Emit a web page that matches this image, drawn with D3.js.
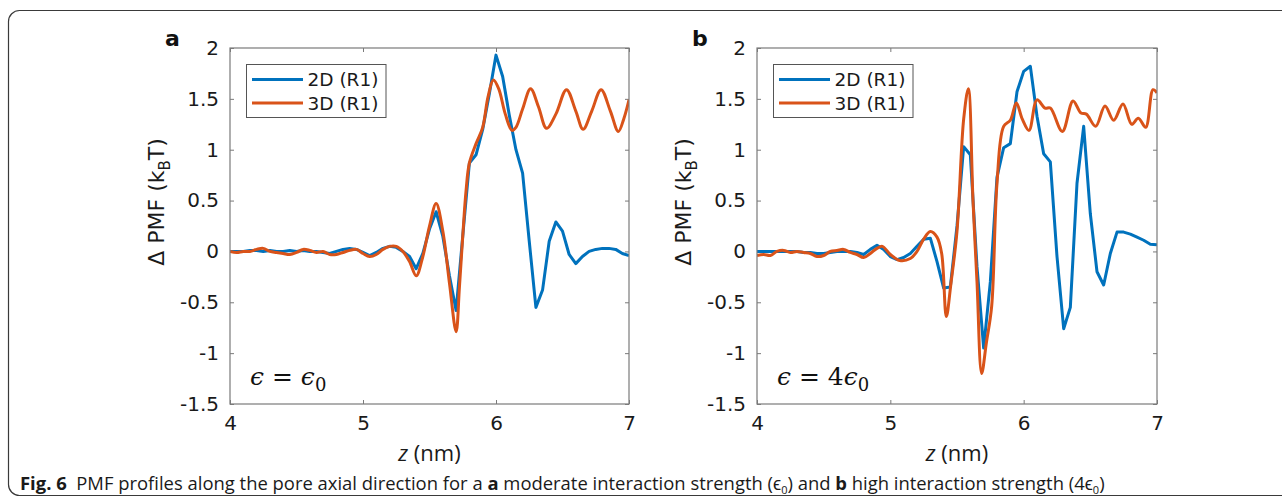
<!DOCTYPE html>
<html>
<head>
<meta charset="utf-8">
<script src="https://cdn.jsdelivr.net/npm/d3@7"></script>
<style>
  body { margin: 0; background: #fff; }
  svg { display: block; }
</style>
</head>
<body>
<svg id="fig" width="1282" height="502"></svg>
<script>
// ---- data -------------------------------------------------------------
const zTicks = [4, 5, 6, 7];
const pmfTicks = [-1.5, -1, -0.5, 0, 0.5, 1, 1.5, 2];
const pmfTickLabels = ["-1.5", "-1", "-0.5", "0", "0.5", "1", "1.5", "2"];
const seriesNames = ["2D (R1)", "3D (R1)"];

// 2D profiles are sampled every 0.05 nm
const z2D = [4.00, 4.05, 4.10, 4.15, 4.20, 4.25, 4.30, 4.35, 4.40, 4.45,
             4.50, 4.55, 4.60, 4.65, 4.70, 4.75, 4.80, 4.85, 4.90, 4.95,
             5.00, 5.05, 5.10, 5.15, 5.20, 5.25, 5.30, 5.35, 5.40, 5.45,
             5.50, 5.55, 5.60, 5.65, 5.70, 5.75, 5.80, 5.85, 5.90, 5.95,
             6.00, 6.05, 6.10, 6.15, 6.20, 6.25, 6.30, 6.35, 6.40, 6.45,
             6.50, 6.55, 6.60, 6.65, 6.70, 6.75, 6.80, 6.85, 6.90, 6.95, 7.00];

// panel a: eps = eps0
const pmfA2D = [0, 0, 0, 0.01, 0.01, 0, 0.01, 0, 0, 0.01,
                0, 0.01, 0, 0, -0.01, -0.02, 0, 0.02, 0.03, 0.02,
                -0.01, -0.04, -0.01, 0.03, 0.05, 0.04, 0.0, -0.05, -0.17, -0.02,
                0.22, 0.39, 0.15, -0.24, -0.58, 0.15, 0.87, 0.95, 1.2, 1.55,
                1.93, 1.72, 1.34, 1.0, 0.77, 0.1, -0.55, -0.38, 0.1, 0.29,
                0.2, -0.03, -0.12, -0.05, 0.0, 0.02, 0.03, 0.03, 0.02, -0.02, -0.04];

const zA3D = [4.00, 4.05, 4.10, 4.15, 4.20, 4.25, 4.30, 4.35, 4.40, 4.45,
              4.50, 4.55, 4.60, 4.65, 4.70, 4.75, 4.80, 4.85, 4.90, 4.95,
              5.00, 5.05, 5.10, 5.15, 5.20, 5.25, 5.30, 5.35, 5.40, 5.45,
              5.50, 5.55, 5.60, 5.65, 5.70, 5.725, 5.75, 5.775, 5.80, 5.85,
              5.90, 5.94, 5.98, 6.02, 6.07, 6.12, 6.15, 6.20, 6.26, 6.32,
              6.38, 6.45, 6.53, 6.60, 6.655, 6.72, 6.79, 6.86, 6.92, 6.96, 7.00];
const pmfA3D = [0.0, -0.01, 0.0, 0.0, 0.02, 0.03, 0.0, -0.01, -0.02, -0.03,
                -0.01, 0.02, 0.01, -0.01, 0.0, -0.03, -0.03, -0.01, 0.01, 0.02,
                -0.02, -0.05, -0.03, 0.02, 0.05, 0.05, 0.0, -0.1, -0.24, -0.05,
                0.25, 0.47, 0.2, -0.31, -0.79, -0.35, 0.15, 0.6, 0.87, 1.06,
                1.22, 1.52, 1.685, 1.6, 1.35, 1.19, 1.22, 1.4, 1.6, 1.42,
                1.21, 1.35, 1.59, 1.38, 1.2, 1.38, 1.59, 1.38, 1.18, 1.3, 1.49];

// panel b: eps = 4 eps0
const pmfB2D = [0.0, 0.0, 0.0, 0.0, 0.0, 0.0, 0.0, -0.01, -0.01, -0.02,
                -0.02, -0.01, 0.0, 0.0, 0.0, -0.01, -0.03, 0.02, 0.06, 0.02,
                -0.05, -0.08, -0.06, -0.02, 0.05, 0.12, 0.13, -0.1, -0.36, -0.35,
                0.25, 1.03, 0.95, -0.15, -0.95, -0.3, 0.73, 1.02, 1.06, 1.57,
                1.77, 1.82, 1.33, 0.96, 0.88, -0.05, -0.76, -0.55, 0.67, 1.23,
                0.37, -0.2, -0.33, -0.02, 0.19, 0.19, 0.17, 0.14, 0.11, 0.07, 0.065];

const zB3D = [4.00, 4.05, 4.10, 4.15, 4.20, 4.25, 4.30, 4.35, 4.40, 4.45,
              4.50, 4.55, 4.60, 4.65, 4.70, 4.75, 4.80, 4.85, 4.90, 4.94,
              5.00, 5.07, 5.15, 5.20, 5.25, 5.30, 5.35, 5.385, 5.42, 5.455,
              5.50, 5.55, 5.585, 5.62, 5.65, 5.685, 5.72, 5.76, 5.80, 5.85,
              5.90, 5.945, 5.99, 6.04, 6.10, 6.16, 6.20, 6.29, 6.37, 6.43,
              6.47, 6.54, 6.61, 6.675, 6.745, 6.81, 6.86, 6.915, 6.97, 7.00];
const pmfB3D = [-0.04, -0.03, -0.04, 0.0, 0.01, -0.01, 0.0, -0.01, -0.02, -0.05,
                -0.04, 0.0, 0.01, 0.02, -0.01, -0.03, -0.06, -0.02, 0.03, 0.05,
                -0.03, -0.09, -0.07, 0.0, 0.12, 0.195, 0.14, -0.02, -0.64, -0.31,
                0.2, 1.3, 1.6, 0.5, -0.3, -1.2, -0.9, -0.54, 0.67, 1.23,
                1.29, 1.46, 1.3, 1.19, 1.49, 1.41, 1.41, 1.18, 1.48, 1.36,
                1.35, 1.23, 1.43, 1.29, 1.45, 1.25, 1.31, 1.22, 1.59, 1.56];

// ---- drawing ----------------------------------------------------------
const svg = d3.select("#fig");
const C2D = "#0072BD", C3D = "#D95319";
const tickFont = "'DejaVu Sans', sans-serif";

// outer figure frame with rounded corners
svg.append("rect")
  .attr("x", 8.5).attr("y", 10.5)
  .attr("width", 1300).attr("height", 485)
  .attr("rx", 11).attr("ry", 11)
  .attr("fill", "none").attr("stroke", "#3a3a3a").attr("stroke-width", 1.2);

function drawPanel(opt) {
  const x = d3.scaleLinear().domain([4, 7]).range([opt.left, opt.right]);
  const y = d3.scaleLinear().domain([-1.5, 2]).range([404, 48]);
  const g = svg.append("g");

  // axes with inward ticks on all four sides
  const tl = 4;
  const axBottom = d3.axisBottom(x).tickValues(zTicks).tickFormat(d3.format("d")).tickSizeInner(-tl).tickSizeOuter(0).tickPadding(12);
  const axTop = d3.axisTop(x).tickValues(zTicks).tickFormat("").tickSizeInner(-tl).tickSizeOuter(0);
  const axLeft = d3.axisLeft(y).tickValues(pmfTicks).tickFormat((d, i) => pmfTickLabels[i]).tickSizeInner(-tl).tickSizeOuter(0).tickPadding(11);
  const axRight = d3.axisRight(y).tickValues(pmfTicks).tickFormat("").tickSizeInner(-tl).tickSizeOuter(0);

  const styleAxis = sel => {
    sel.select(".domain").remove();
    sel.selectAll(".tick line").attr("stroke", "#7a7a7a").attr("stroke-width", 1);
    sel.selectAll(".tick text").attr("fill", "#1a1a1a").style("font-family", tickFont).style("font-size", "20px");
  };
  g.append("g").attr("transform", `translate(0,${y(-1.5)})`).call(axBottom).call(styleAxis);
  g.append("g").attr("transform", `translate(0,${y(2)})`).call(axTop).call(styleAxis);
  g.append("g").attr("transform", `translate(${x(4)},0)`).call(axLeft).call(styleAxis);
  g.append("g").attr("transform", `translate(${x(7)},0)`).call(axRight).call(styleAxis);

  // curves
  const clipId = "clip-" + opt.key;
  svg.append("clipPath").attr("id", clipId).append("rect")
    .attr("x", x(4)).attr("y", y(2)).attr("width", x(7) - x(4)).attr("height", y(-1.5) - y(2));

  const line2D = d3.line().x(d => x(d[0])).y(d => y(d[1])).curve(d3.curveLinear);
  const line3D = d3.line().x(d => x(d[0])).y(d => y(d[1])).curve(d3.curveCatmullRom.alpha(0.5));

  const curves = g.append("g").attr("clip-path", `url(#${clipId})`);
  curves.append("path").datum(d3.zip(opt.z2, opt.v2)).attr("d", line2D)
    .attr("fill", "none").attr("stroke", C2D).attr("stroke-width", 3).attr("stroke-linejoin", "round");
  curves.append("path").datum(d3.zip(opt.z3, opt.v3)).attr("d", line3D)
    .attr("fill", "none").attr("stroke", C3D).attr("stroke-width", 3).attr("stroke-linejoin", "round");

  // axes box
  g.append("rect").attr("x", x(4)).attr("y", y(2))
    .attr("width", x(7) - x(4)).attr("height", y(-1.5) - y(2))
    .attr("fill", "none").attr("stroke", "#7a7a7a").attr("stroke-width", 1.2);

  // legend
  const lx = x(4) + 16.5, ly = 64.5;
  const leg = g.append("g");
  leg.append("rect").attr("x", lx).attr("y", ly).attr("width", 139.5).attr("height", 53)
    .attr("fill", "#fff").attr("stroke", "#555").attr("stroke-width", 1);
  [C2D, C3D].forEach((c, i) => {
    const yy = ly + 15 + i * 23.5;
    leg.append("line").attr("x1", lx + 5.5).attr("x2", lx + 56.5).attr("y1", yy).attr("y2", yy)
      .attr("stroke", c).attr("stroke-width", 3);
    leg.append("text").attr("x", lx + 61).attr("y", yy).attr("dy", "0.36em")
      .style("font-family", tickFont).style("font-size", "18.5px").attr("fill", "#1a1a1a")
      .text(seriesNames[i]);
  });

  // y label
  const yl = g.append("text")
    .attr("transform", `translate(${x(4) - 66},${202}) rotate(-90)`)
    .attr("text-anchor", "middle")
    .style("font-family", tickFont).style("font-size", "22px").attr("fill", "#1a1a1a");
  yl.append("tspan").text("\u0394 PMF (k");
  yl.append("tspan").attr("dy", 6).style("font-size", "15px").text("B");
  yl.append("tspan").attr("dy", -6).text("T)");

  // x label
  const xl = g.append("text").attr("x", (x(4) + x(7)) / 2).attr("y", 461)
    .attr("text-anchor", "middle")
    .style("font-family", "'Open Sans', sans-serif").style("font-size", "22px").attr("fill", "#1a1a1a");
  xl.append("tspan").style("font-style", "italic").text("z");
  xl.append("tspan").text(" (nm)");

  // panel letter
  g.append("text").attr("x", x(4) - 65).attr("y", 46)
    .style("font-family", tickFont).style("font-weight", "bold").style("font-size", "22px")
    .attr("fill", "#111").text(opt.key);

  // interaction strength annotation
  const an = g.append("text").attr("x", x(4) + 20).attr("y", 385)
    .style("font-family", "'DejaVu Serif', serif").style("font-size", "25px").attr("fill", "#111");
  an.append("tspan").style("font-style", "italic").text("\u03F5");
  an.append("tspan").text(" = " + opt.factor);
  an.append("tspan").style("font-style", "italic").text("\u03F5");
  an.append("tspan").attr("dy", 6).style("font-size", "18px").text("0");
}

drawPanel({ key: "a", left: 230, right: 629, factor: "", z2: z2D, v2: pmfA2D, z3: zA3D, v3: pmfA3D });
drawPanel({ key: "b", left: 757, right: 1157, factor: "4", z2: z2D, v2: pmfB2D, z3: zB3D, v3: pmfB3D });

// caption
const cap = svg.append("text").attr("x", 20).attr("y", 490)
  .style("font-family", "'Open Sans', sans-serif").style("font-size", "15px").attr("fill", "#1a1a1a");
const parts = [
  ["Fig. 6", "bold"], ["  PMF profiles along the pore axial direction for a ", null], ["a", "bold"],
  [" moderate interaction strength (", null], ["\u03F5", null], ["0", "sub"], [") and ", null], ["b", "bold"],
  [" high interaction strength (4", null], ["\u03F5", null], ["0", "sub"], [")", null]
];
parts.forEach(([t, k]) => {
  const ts = cap.append("tspan").text(t).attr("xml:space", "preserve");
  if (k === "bold") ts.style("font-weight", "bold");
  if (k === "sub") ts.attr("dy", 4).style("font-size", "11px");
  else if (cap.selectAll("tspan").size() > 1) ts.attr("dy", null);
});
// reset baseline after each subscript
cap.selectAll("tspan").each(function (d, i, nodes) {
  if (i > 0 && parts[i - 1][1] === "sub") d3.select(this).attr("dy", -4);
});
cap.style("white-space", "pre");
// fit caption to its line width
const capLen = cap.node().getComputedTextLength();
cap.style("font-size", (15 * 1088 / capLen) + "px");
</script>
</body>
</html>
